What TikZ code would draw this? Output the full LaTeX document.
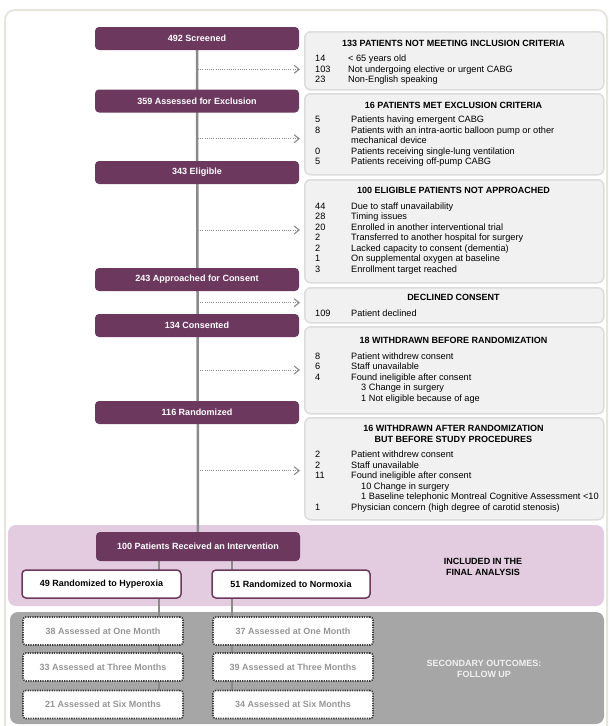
\documentclass[tikz,border=0pt]{standalone}
\usepackage{fontspec}
\setmainfont{Liberation Sans}
\usetikzlibrary{arrows.meta,backgrounds}
\definecolor{plum}{RGB}{108,56,94}
\definecolor{pinkbg}{RGB}{227,204,224}
\definecolor{graybg}{RGB}{166,166,166}
\definecolor{boxfill}{RGB}{241,241,241}
\definecolor{boxline}{RGB}{220,220,220}
\definecolor{framecol}{RGB}{232,229,221}
\definecolor{trunkcol}{RGB}{138,138,138}
\definecolor{arrowcol}{RGB}{140,140,140}
\definecolor{fugray}{RGB}{150,150,150}
\definecolor{dotdark}{RGB}{60,60,60}
\pgfdeclarelayer{bg}
\pgfdeclarelayer{mid}
\pgfsetlayers{bg,mid,main}
\begin{document}
\begin{tikzpicture}[x=1pt,y=-1pt,
  purplebox/.style={fill=plum, rounded corners=4pt, minimum width=204pt, minimum height=23pt, inner sep=0pt, text=white, font=\bfseries\fontsize{9}{11}\selectfont},
  armbox/.style={draw=plum, fill=white, line width=1.5pt, rounded corners=4pt, minimum height=28pt, inner sep=0pt, text=black, font=\bfseries\fontsize{9}{11}\selectfont},
  graybox/.style={draw=boxline, fill=boxfill, line width=1.5pt, rounded corners=6pt, inner sep=0pt, anchor=north west, minimum width=299pt},
  headtxt/.style={anchor=base, inner sep=0pt, font=\bfseries\fontsize{9}{10.7}\selectfont},
  listtxt/.style={anchor=base west, inner sep=0pt, font=\fontsize{9.2}{10.5}\selectfont},
  fubox/.style={draw=dotdark, fill=white, line width=1.6pt, dash pattern=on 1.3pt off 1.1pt, rounded corners=3pt, minimum width=160pt, minimum height=28pt, inner sep=0pt, text=fugray, font=\bfseries\fontsize{9}{11}\selectfont},
  sidetxt/.style={align=center, inner sep=0pt, font=\bfseries\fontsize{9}{11}\selectfont},
  trunk/.style={draw=trunkcol, line width=2.5pt},
  dotarrow/.style={draw=arrowcol, line width=1pt, dash pattern=on 1pt off 1.2pt, shorten >=4pt, -{Straight Barb[length=5pt,width=8pt,line width=1.1pt]}}
]
\useasboundingbox (0,0) rectangle (612,726);

\begin{pgfonlayer}{bg}
  \draw[framecol, line width=2pt, rounded corners=10pt] (5,760) -- (5,10) -- (607,10) -- (607,760);
  \fill[pinkbg, rounded corners=8pt] (8,525) rectangle (604,606);
  \fill[graybg, rounded corners=8pt] (10,612) rectangle (604,724);
\end{pgfonlayer}

% main flow
\node[purplebox] (screened) at (197,38.5) {492 Screened};
\node[purplebox] (assessed) at (197,101) {359 Assessed for Exclusion};
\node[purplebox] (eligible) at (197,172.5) {343 Eligible};
\node[purplebox] (approached) at (197,279.5) {243 Approached for Consent};
\node[purplebox] (consented) at (197,325.5) {134 Consented};
\node[purplebox] (randomized) at (197,412.5) {116 Randomized};
\node[purplebox, minimum width=204pt, minimum height=29pt] (p100) at (198,546.5) {100 Patients Received an Intervention};

\node[armbox, minimum width=159pt] (hyp) at (101.5,584) {49 Randomized to Hyperoxia};
\node[armbox, minimum width=158pt] (nor) at (291,584) {51 Randomized to Normoxia};

\node[fubox] (h1) at (103,631) {38 Assessed at One Month};
\node[fubox] (h3) at (103,667) {33 Assessed at Three Months};
\node[fubox] (h6) at (103,704.5) {21 Assessed at Six Months};
\node[fubox] (n1) at (293,631) {37 Assessed at One Month};
\node[fubox] (n3) at (293,667) {39 Assessed at Three Months};
\node[fubox] (n6) at (293,704.5) {34 Assessed at Six Months};

\node[sidetxt] (incl) at (483,566.5) {INCLUDED IN THE\\FINAL ANALYSIS};
\node[sidetxt, text=white!94!black] (second) at (484,668.5) {SECONDARY OUTCOMES:\\FOLLOW UP};

% side boxes
\node[graybox, minimum height=58pt] (b1) at (304,31) {};
\node[graybox, minimum height=81pt] (b2) at (304,93) {};
\node[graybox, minimum height=103pt] (b3) at (304,179) {};
\node[graybox, minimum height=35pt] (b4) at (304,287) {};
\node[graybox, minimum height=87pt] (b5) at (304,326) {};
\node[graybox, minimum height=102pt] (b6) at (304,417) {};

\node[headtxt] (t1) at (453.5,46.2) {133 PATIENTS NOT MEETING INCLUSION CRITERIA};
\node[listtxt] (l1) at (315,61.6) {\begin{tabular}[t]{@{}p{33pt}@{}l@{}}
14 & < 65 years old\\
103 & Not undergoing elective or urgent CABG\\
23 & Non-English speaking
\end{tabular}};

\node[headtxt] (t2) at (453.5,108.2) {16 PATIENTS MET EXCLUSION CRITERIA};
\node[listtxt] (l2) at (315,122.6) {\begin{tabular}[t]{@{}p{36pt}@{}l@{}}
5 & Patients having emergent CABG\\
8 & Patients with an intra-aortic balloon pump or other\\
 & mechanical device\\
0 & Patients receiving single-lung ventilation\\
5 & Patients receiving off-pump CABG
\end{tabular}};

\node[headtxt] (t3) at (453.5,193.9) {100 ELIGIBLE PATIENTS NOT APPROACHED};
\node[listtxt] (l3) at (315,209) {\begin{tabular}[t]{@{}p{36pt}@{}l@{}}
44 & Due to staff unavailability\\
28 & Timing issues\\
20 & Enrolled in another interventional trial\\
2 & Transferred to another hospital for surgery\\
2 & Lacked capacity to consent (dementia)\\
1 & On supplemental oxygen at baseline\\
3 & Enrollment target reached
\end{tabular}};

\node[headtxt] (t4) at (453.5,300.5) {DECLINED CONSENT};
\node[listtxt] (l4) at (315,316) {\begin{tabular}[t]{@{}p{36pt}@{}l@{}}
109 & Patient declined
\end{tabular}};

\node[headtxt] (t5) at (453.5,343.9) {18 WITHDRAWN BEFORE RANDOMIZATION};
\node[listtxt] (l5) at (315,359.3) {\begin{tabular}[t]{@{}p{36pt}@{}l@{}}
8 & Patient withdrew consent\\
6 & Staff unavailable\\
4 & Found ineligible after consent\\
 & \hspace*{10pt}3 Change in surgery\\
 & \hspace*{10pt}1 Not eligible because of age
\end{tabular}};

\node[headtxt] (t6) at (453.5,431.5) {\begin{tabular}[t]{@{}c@{}}16 WITHDRAWN AFTER RANDOMIZATION\\BUT BEFORE STUDY PROCEDURES\end{tabular}};
\node[listtxt] (l6) at (315,457.6) {\begin{tabular}[t]{@{}p{36pt}@{}l@{}}
2 & Patient withdrew consent\\
2 & Staff unavailable\\
11 & Found ineligible after consent\\
 & \hspace*{10pt}10 Change in surgery\\
 & \hspace*{10pt}1 Baseline telephonic Montreal Cognitive Assessment <10\\
1 & Physician concern (high degree of carotid stenosis)
\end{tabular}};

% connectors
\coordinate (lx) at (159,0);
\coordinate (rx) at (232,0);
\begin{pgfonlayer}{mid}
  \draw[trunk] (screened.center) -- (p100.center);
  \draw[trunk] (lx |- p100.center) -- (lx |- h6.center);
  \draw[trunk] (rx |- p100.center) -- (rx |- n6.center);
\end{pgfonlayer}

\coordinate (a1) at (198,69.3);
\coordinate (a2) at (198,138.7);
\coordinate (a3) at (198,230);
\coordinate (a4) at (198,302.7);
\coordinate (a5) at (198,370);
\coordinate (a6) at (198,470.7);
\draw[dotarrow] (a1) -- (a1 -| b1.west);
\draw[dotarrow] (a2) -- (a2 -| b2.west);
\draw[dotarrow] (a3) -- (a3 -| b3.west);
\draw[dotarrow] (a4) -- (a4 -| b4.west);
\draw[dotarrow] (a5) -- (a5 -| b5.west);
\draw[dotarrow] (a6) -- (a6 -| b6.west);
\end{tikzpicture}
\end{document}
